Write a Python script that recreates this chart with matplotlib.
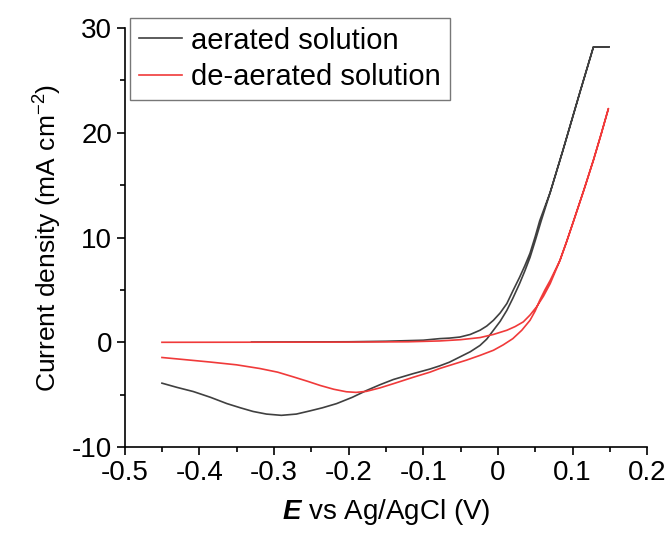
import numpy as np
import matplotlib
matplotlib.use("Agg")
import matplotlib.pyplot as plt
from matplotlib.ticker import MultipleLocator

plt.rcParams['font.family'] = ['Liberation Sans', 'DejaVu Sans']
plt.rcParams['mathtext.fontset'] = 'custom'
plt.rcParams['mathtext.rm'] = 'Liberation Sans'
plt.rcParams['mathtext.it'] = 'Liberation Sans:italic'
plt.rcParams['mathtext.bf'] = 'Liberation Sans:bold'
plt.rcParams['mathtext.bfit'] = 'Liberation Sans:italic:bold'
plt.rcParams['axes.unicode_minus'] = False

# aerated solution: forward scan (lower branch) then reverse scan (upper branch)
E_aer = [-0.45, -0.43, -0.408, -0.385, -0.363, -0.345, -0.328, -0.31, -0.29, -0.27,
         -0.252, -0.235, -0.216, -0.195, -0.176, -0.158, -0.14, -0.114, -0.091, -0.078,
         -0.065, -0.051, -0.037, -0.024, -0.015, -0.006, 0.003, 0.012, 0.02, 0.029,
         0.036, 0.043, 0.05, 0.058, 0.07, 0.087, 0.11, 0.128, 0.149,
         0.128, 0.11, 0.087, 0.07, 0.056, 0.05, 0.043, 0.036, 0.029, 0.02,
         0.012, 0.003, -0.006, -0.015, -0.024, -0.037, -0.051, -0.065, -0.078, -0.1,
         -0.15, -0.2, -0.33]
J_aer = [-3.9, -4.3, -4.7, -5.25, -5.85, -6.25, -6.6, -6.85, -6.97, -6.85,
         -6.55, -6.25, -5.85, -5.25, -4.6, -4.05, -3.55, -3.0, -2.55, -2.25,
         -1.9, -1.4, -0.9, -0.3, 0.3, 1.15, 2.0, 3.05, 4.2, 5.6,
         6.8, 8.1, 9.7, 11.6, 14.3, 18.3, 23.9, 28.2, 28.2,
         28.2, 23.9, 18.3, 14.3, 11.6, 10.1, 8.5, 7.3, 6.2, 4.9,
         3.7, 2.8, 2.1, 1.55, 1.15, 0.75, 0.5, 0.4, 0.35, 0.2,
         0.1, 0.05, 0.02]

# de-aerated solution
E_deaer = [-0.45, -0.42, -0.386, -0.35, -0.319, -0.295, -0.274, -0.255, -0.238, -0.22,
           -0.203, -0.19, -0.176, -0.158, -0.14, -0.114, -0.091, -0.078, -0.06, -0.042,
           -0.024, -0.006, 0.007, 0.02, 0.032, 0.043, 0.05, 0.056, 0.063, 0.07,
           0.083, 0.092, 0.101, 0.115, 0.128, 0.138, 0.148,
           0.138, 0.128, 0.115, 0.101, 0.092, 0.083, 0.07, 0.061, 0.052, 0.043,
           0.034, 0.023, 0.012, -0.006, -0.024, -0.05, -0.078, -0.12, -0.2, -0.45]
J_deaer = [-1.45, -1.65, -1.88, -2.15, -2.5, -2.85, -3.3, -3.72, -4.12, -4.48,
           -4.72, -4.78, -4.68, -4.35, -3.95, -3.35, -2.85, -2.5, -2.1, -1.7,
           -1.25, -0.76, -0.25, 0.35, 1.15, 2.1, 3.0, 4.0, 5.0, 5.9,
           7.8, 9.6, 11.5, 14.5, 17.4, 19.8, 22.3,
           19.8, 17.4, 14.5, 11.5, 9.6, 7.8, 5.6, 4.4, 3.4, 2.6,
           1.95, 1.5, 1.15, 0.75, 0.45, 0.25, 0.13, 0.05, 0.02, 0.0]

fig = plt.figure(figsize=(6.7, 5.38), dpi=100)
ax = fig.add_axes([0.186, 0.169, 0.780, 0.779])

ax.plot(E_aer, J_aer, color='#404040', lw=1.2, label='aerated solution', zorder=2)
ax.plot(E_deaer, J_deaer, color='#f03a3a', lw=1.2, label='de-aerated solution', zorder=3)

ax.set_xlim(-0.5, 0.2)
ax.set_ylim(-10, 30)
ax.xaxis.set_minor_locator(MultipleLocator(0.05))
ax.yaxis.set_major_locator(MultipleLocator(10))
ax.yaxis.set_minor_locator(MultipleLocator(5))
ax.set_xticks(np.arange(-0.5, 0.21, 0.1))
ax.set_xticklabels(['-0.5', '-0.4', '-0.3', '-0.2', '-0.1', '0', '0.1', '0.2'])

for s in ['top', 'right']:
    ax.spines[s].set_visible(False)
for s in ['left', 'bottom']:
    ax.spines[s].set_linewidth(1.2)
ax.tick_params(which='major', direction='out', length=6, width=1.2, labelsize=20, pad=3)
ax.tick_params(which='minor', direction='out', length=3.5, width=1.2)

ax.set_xlabel(r'$\mathbfit{E}$ vs Ag/AgCl (V)', fontsize=20, labelpad=8)
ax.set_ylabel('Current density (mA cm$^{-2}$)', fontsize=19, labelpad=6)

leg = ax.legend(loc='upper left', bbox_to_anchor=(0.01, 1.024), borderaxespad=0,
                fontsize=21, frameon=True, fancybox=False, edgecolor='#555555',
                handlelength=1.5, handletextpad=0.3, labelspacing=0.3, borderpad=0.3)
leg.get_frame().set_linewidth(1.0)

fig.savefig('out.png', dpi=100)
